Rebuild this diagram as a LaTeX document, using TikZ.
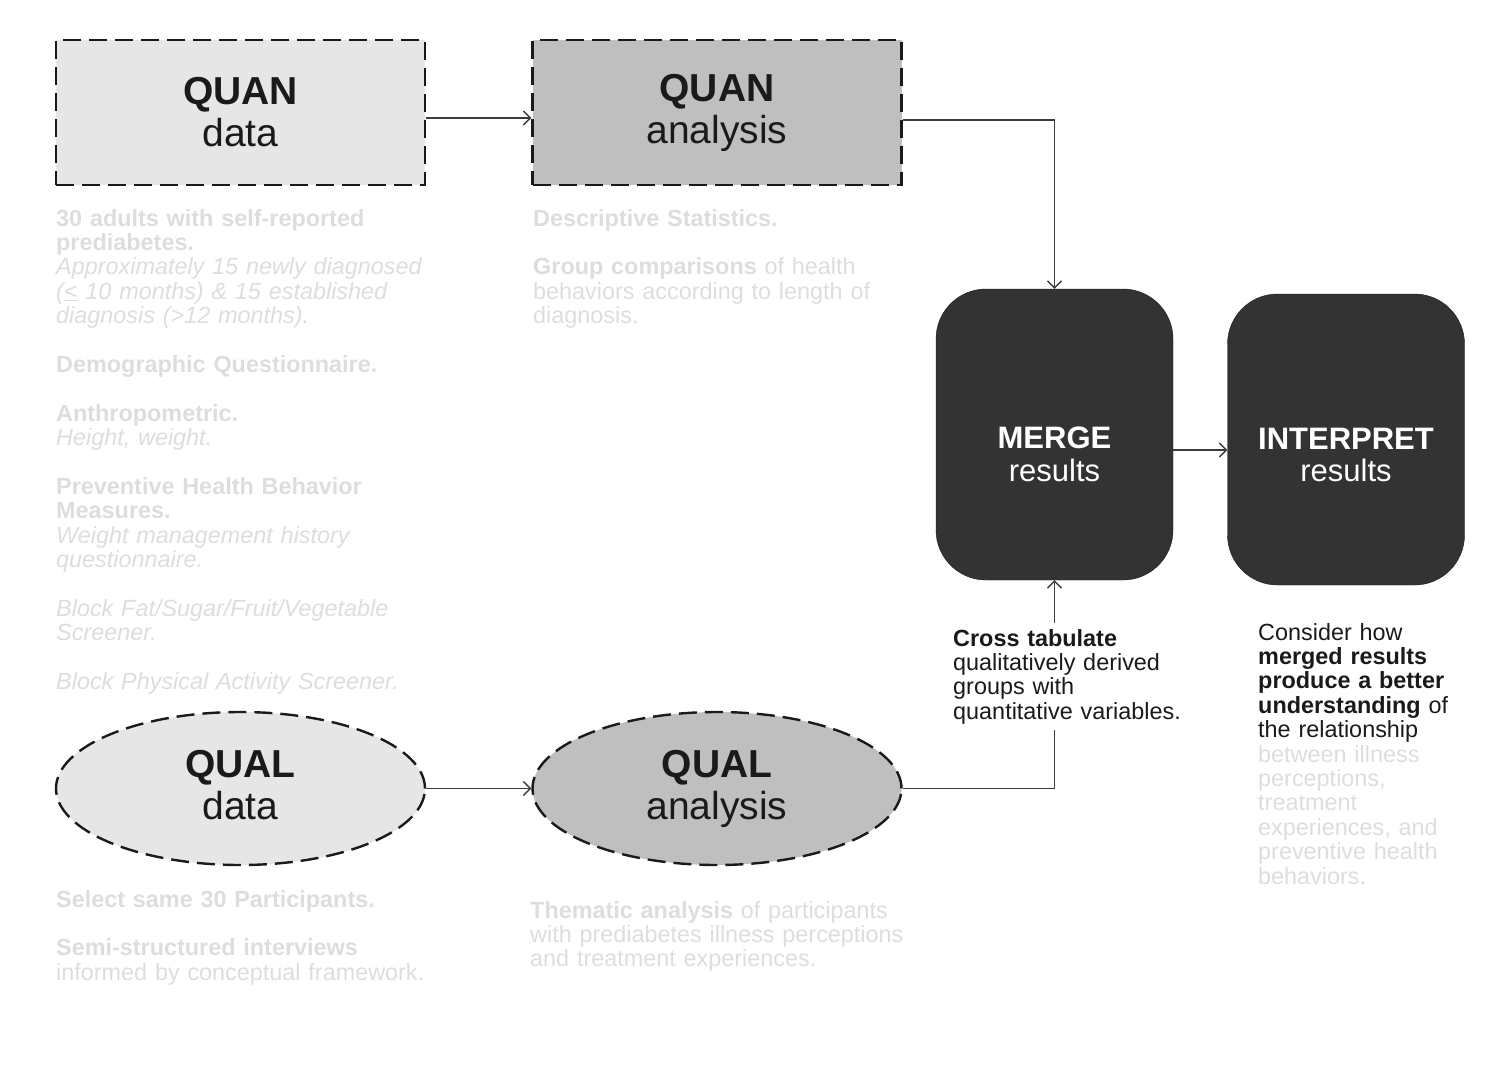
\documentclass[tikz,border=0pt]{standalone}
\usepackage{fontspec}
\setmainfont{Liberation Sans}
\usepackage{tikz}
\usetikzlibrary{arrows.meta,shapes.geometric}
\definecolor{ink}{HTML}{1A1A1A}
\definecolor{wire}{HTML}{3C3C3C}
\definecolor{paledata}{HTML}{E6E6E6}
\definecolor{midgray}{HTML}{BFBFBF}
\definecolor{darkbox}{HTML}{333333}
\definecolor{faint}{HTML}{DDDDDD}

\begin{document}
\begin{tikzpicture}[x=1pt,y=-1pt,
  stage/.style={draw=ink,line width=2.4pt,dash pattern=on 18pt off 8pt,text=ink,align=center,inner sep=0pt,font=\fontsize{39}{42}\selectfont},
  quanbox/.style={stage,rectangle,minimum width=369pt,minimum height=145pt},
  qualoval/.style={stage,ellipse,minimum width=369pt,minimum height=153pt},
  resultbox/.style={draw=ink,fill=darkbox,rounded corners=50pt,minimum width=237pt,minimum height=291pt,text=white,align=center,font=\fontsize{31}{32.5}\selectfont},
  note/.style={anchor=base west,inner sep=0pt,align=left,text width=#1,font=\fontsize{23.4}{24.4}\selectfont},
  conn/.style={draw=wire,line width=1.4pt},
  arrowto/.style={-{Straight Barb[length=7pt,width=14pt]}}
]
  \useasboundingbox (0,0) rectangle (1510,1090);

  \node[quanbox,fill=paledata] (quandata) at (240.5,112.5) {\textbf{QUAN}\\data};
  \node[quanbox,fill=midgray] (quananalysis) at (717,112.5) {\textbf{QUAN}\\analysis};
  \node[resultbox] (merge) at (1054.5,434.5) {\rule{0pt}{61pt}\textbf{MERGE}\\results};
  \node[resultbox] (interpret) at (1346,439.5) {\rule{0pt}{52pt}\textbf{INTERPRET}\\results};
  \node[qualoval,fill=paledata] (qualdata) at (240.5,788.5) {\textbf{QUAL}\\data\rule[-8pt]{0pt}{8pt}};
  \node[qualoval,fill=midgray] (qualanalysis) at (717,788.5) {\textbf{QUAL}\\analysis};

  \coordinate (quany) at (0,118);
  \coordinate (mergey) at (0,120);
  \coordinate (resy) at (0,450);

  % connectors
  \draw[conn,arrowto] (quandata.east |- quany) -- (quananalysis.west |- quany);
  \draw[conn,arrowto] (quananalysis.east |- mergey) -| (merge.north);
  \draw[conn,arrowto] (qualdata.east) -- (qualanalysis.west);
  \draw[conn,arrowto] (qualanalysis.east) -| (merge.south);
  \draw[conn,arrowto] (merge.east |- resy) -- (interpret.west |- resy);

  \node[note=240pt,fill=white,inner sep=6pt,text=ink] (crosstab) at (947,646)
    {\textbf{Cross tabulate}\\qualitatively derived\\groups with\\quantitative variables.};

  % notes under the stages
  \node[note=400pt,text=faint] (quandatanote) at (56,226)
    {\textbf{30 adults with self-reported}\\\textbf{prediabetes.}\\
     \textit{Approximately 15 newly diagnosed}\\
     \textit{(\underline{<} 10 months) \& 15 established}\\
     \textit{diagnosis (>12 months).}\\[24.4pt]
     \textbf{Demographic Questionnaire.}\\[24.4pt]
     \textbf{Anthropometric.}\\\textit{Height, weight.}\\[24.4pt]
     \textbf{Preventive Health Behavior}\\\textbf{Measures.}\\
     \textit{Weight management history}\\\textit{questionnaire.}\\[24.4pt]
     \textit{Block Fat/Sugar/Fruit/Vegetable}\\\textit{Screener.}\\[24.4pt]
     \textit{Block Physical Activity Screener.}};
  \node[note=400pt,text=faint] (quananalysisnote) at (533,226)
    {\textbf{Descriptive Statistics.}\\[24.4pt]
     \textbf{Group comparisons} of health\\behaviors according to length of\\diagnosis.};
  \node[note=400pt,text=faint] (qualdatanote) at (56,907)
    {\textbf{Select same 30 Participants.}\\[24.4pt]
     \textbf{Semi-structured interviews}\\informed by conceptual framework.};
  \node[note=400pt,text=faint] (qualanalysisnote) at (530,918)
    {\textbf{Thematic analysis} of participants\\with prediabetes illness perceptions\\and treatment experiences.};
  \node[note=230pt,text=ink] (interpretnote) at (1258,640)
    {Consider how\\\textbf{merged results}\\\textbf{produce a better}\\\textbf{understanding} of\\the relationship\\
     \color{faint}between illness\\perceptions,\\treatment\\experiences, and\\preventive health\\behaviors.};
\end{tikzpicture}
\end{document}
